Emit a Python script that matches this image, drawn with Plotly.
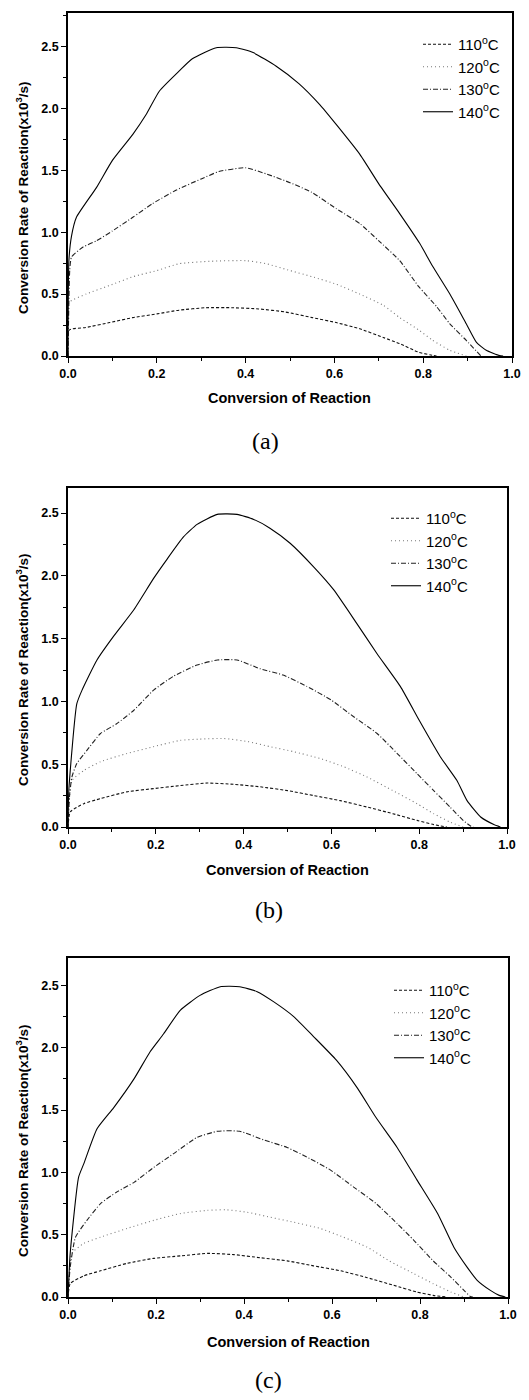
import plotly.graph_objects as go

### 1. DATA
temps = ["110", "120", "130", "140"]
dashes = ["3px,2px", "1px,3px", "5px,2px,1px,2px", "solid"]
colors = ["#111111", "#777777", "#222222", "#000000"]

## (a)
xa_110 = [0, 0.003, 0.04, 0.094, 0.146, 0.2, 0.25, 0.31, 0.37, 0.43, 0.49, 0.55, 0.604, 0.657, 0.71, 0.747, 0.79, 0.815, 0.83]
ya_110 = [0, 0.21, 0.23, 0.27, 0.31, 0.34, 0.37, 0.39, 0.39, 0.38, 0.355, 0.31, 0.27, 0.22, 0.15, 0.10, 0.03, 0.01, 0]
xa_120 = [0, 0.002, 0.041, 0.094, 0.146, 0.2, 0.25, 0.32, 0.40, 0.447, 0.5, 0.55, 0.604, 0.657, 0.71, 0.747, 0.79, 0.82, 0.86, 0.897]
ya_120 = [0, 0.43, 0.50, 0.57, 0.64, 0.69, 0.745, 0.765, 0.77, 0.745, 0.69, 0.64, 0.58, 0.50, 0.41, 0.31, 0.21, 0.13, 0.046, 0]
xa_130 = [0, 0.004, 0.008, 0.034, 0.064, 0.10, 0.146, 0.19, 0.244, 0.30, 0.34, 0.40, 0.447, 0.50, 0.55, 0.604, 0.657, 0.70, 0.747, 0.79, 0.83, 0.86, 0.897, 0.93]
ya_130 = [0, 0.70, 0.80, 0.88, 0.93, 1.01, 1.12, 1.23, 1.34, 1.43, 1.49, 1.52, 1.47, 1.40, 1.32, 1.19, 1.07, 0.93, 0.77, 0.56, 0.40, 0.26, 0.126, 0.0]
xa_140 = [0, 0.002, 0.008, 0.019, 0.064, 0.10, 0.146, 0.176, 0.206, 0.25, 0.28, 0.334, 0.379, 0.417, 0.469, 0.52, 0.567, 0.604, 0.657, 0.70, 0.747, 0.792, 0.822, 0.86, 0.897, 0.92, 0.942, 0.972, 0.98]
ya_140 = [0, 0.77, 0.97, 1.12, 1.36, 1.58, 1.79, 1.95, 2.14, 2.30, 2.40, 2.49, 2.49, 2.45, 2.34, 2.20, 2.03, 1.87, 1.63, 1.39, 1.15, 0.91, 0.72, 0.50, 0.26, 0.11, 0.046, 0.003, 0]

## (b)
xb_110 = [0, 0.005, 0.036, 0.074, 0.134, 0.195, 0.256, 0.317, 0.377, 0.438, 0.5, 0.56, 0.62, 0.68, 0.74, 0.795, 0.833, 0.863]
yb_110 = [0, 0.12, 0.186, 0.226, 0.28, 0.306, 0.33, 0.35, 0.34, 0.32, 0.29, 0.25, 0.21, 0.16, 0.106, 0.053, 0.019, 0]
xb_120 = [0, 0.009, 0.036, 0.074, 0.134, 0.195, 0.256, 0.30, 0.355, 0.41, 0.46, 0.514, 0.575, 0.628, 0.68, 0.74, 0.795, 0.833, 0.87, 0.90]
yb_120 = [0, 0.37, 0.45, 0.52, 0.585, 0.64, 0.69, 0.70, 0.705, 0.68, 0.64, 0.60, 0.545, 0.48, 0.40, 0.29, 0.186, 0.106, 0.04, 0]
xb_130 = [0, 0.004, 0.009, 0.02, 0.043, 0.074, 0.11, 0.15, 0.195, 0.24, 0.294, 0.34, 0.385, 0.438, 0.49, 0.544, 0.6, 0.65, 0.704, 0.75, 0.795, 0.833, 0.87, 0.90, 0.917, 0.924]
yb_130 = [0, 0.27, 0.40, 0.505, 0.61, 0.745, 0.82, 0.93, 1.09, 1.20, 1.29, 1.33, 1.33, 1.26, 1.21, 1.12, 1.01, 0.88, 0.745, 0.585, 0.425, 0.29, 0.16, 0.053, 0.008, 0]
xb_140 = [0, 0.002, 0.02, 0.032, 0.066, 0.104, 0.15, 0.195, 0.225, 0.263, 0.294, 0.34, 0.385, 0.423, 0.46, 0.506, 0.56, 0.605, 0.658, 0.704, 0.757, 0.80, 0.848, 0.886, 0.909, 0.94, 0.97, 0.985]
yb_140 = [0, 0.30, 0.98, 1.09, 1.33, 1.52, 1.73, 1.98, 2.13, 2.31, 2.41, 2.49, 2.49, 2.45, 2.38, 2.26, 2.07, 1.89, 1.62, 1.38, 1.12, 0.85, 0.56, 0.37, 0.21, 0.08, 0.02, 0]

## (c)
xc_110 = [0, 0.005, 0.036, 0.074, 0.134, 0.195, 0.256, 0.317, 0.377, 0.437, 0.498, 0.558, 0.62, 0.68, 0.74, 0.793, 0.83, 0.86]
yc_110 = [0, 0.107, 0.17, 0.21, 0.27, 0.31, 0.33, 0.35, 0.34, 0.315, 0.29, 0.25, 0.21, 0.155, 0.094, 0.04, 0.013, 0]
xc_120 = [0, 0.009, 0.036, 0.074, 0.134, 0.195, 0.256, 0.317, 0.36, 0.407, 0.46, 0.513, 0.573, 0.626, 0.68, 0.73, 0.786, 0.83, 0.87, 0.90]
yc_120 = [0, 0.35, 0.43, 0.48, 0.55, 0.615, 0.67, 0.695, 0.70, 0.68, 0.64, 0.60, 0.55, 0.48, 0.40, 0.29, 0.187, 0.107, 0.04, 0]
xc_130 = [0, 0.005, 0.017, 0.043, 0.074, 0.11, 0.15, 0.195, 0.24, 0.293, 0.34, 0.39, 0.445, 0.498, 0.55, 0.596, 0.65, 0.70, 0.748, 0.786, 0.83, 0.87, 0.90, 0.914, 0.92]
yc_130 = [0, 0.24, 0.48, 0.615, 0.75, 0.84, 0.92, 1.04, 1.15, 1.28, 1.33, 1.33, 1.26, 1.20, 1.11, 1.02, 0.88, 0.75, 0.59, 0.455, 0.29, 0.16, 0.053, 0.005, 0]
xc_140 = [0, 0.005, 0.024, 0.036, 0.066, 0.104, 0.15, 0.187, 0.217, 0.255, 0.30, 0.346, 0.39, 0.43, 0.467, 0.513, 0.558, 0.61, 0.657, 0.70, 0.748, 0.793, 0.84, 0.877, 0.907, 0.93, 0.96, 0.98, 0.994]
yc_140 = [0, 0.35, 0.96, 1.07, 1.35, 1.52, 1.75, 1.97, 2.11, 2.30, 2.42, 2.49, 2.49, 2.45, 2.37, 2.25, 2.09, 1.90, 1.68, 1.44, 1.20, 0.94, 0.67, 0.40, 0.24, 0.134, 0.053, 0.013, 0]

panels = [
    dict(xs=[xa_110, xa_120, xa_130, xa_140], ys=[ya_110, ya_120, ya_130, ya_140], label="(a)"),
    dict(xs=[xb_110, xb_120, xb_130, xb_140], ys=[yb_110, yb_120, yb_130, yb_140], label="(b)"),
    dict(xs=[xc_110, xc_120, xc_130, xc_140], ys=[yc_110, yc_120, yc_130, yc_140], label="(c)"),
]

ytitle = "Conversion Rate of Reaction(x10<sup>3</sup>/s)"
xtitle = "Conversion of Reaction"

### 2. LAYOUT GEOMETRY
# positions are page pixels of the 529x1400 reference; the html body adds an 8px margin.
# the figure is made a bit wider than the window so the top legend is not pushed left.
OFF = 8
W, H = 529 - OFF + 40, 1400 - OFF
boxes = [  # left, right, top, bottom
    (68, 512, 13, 356),
    (68, 507, 488, 827),
    (68, 508, 958, 1297),
]
yranges = [2.77, 2.70, 2.72]
legend_pos = [(418, 28), (386, 502), (389, 974)]  # left, top
label_pos = [(265, 441), (269, 910), (268, 1380)]
ytitle_pos = [(22, 198), (22, 670), (22, 1141)]
xtitle_pos = [(289, 398), (287, 870), (288, 1342)]


def px(x):
    return (x - OFF) / W


def py(y):
    return 1 - (y - OFF) / H


FONT = "Liberation Sans"

### 3. PLOTTING
fig = go.Figure()
for i, p in enumerate(panels):
    sfx = "" if i == 0 else str(i + 1)
    leg = "legend" + sfx
    for k, t in enumerate(temps):
        fig.add_trace(go.Scatter(
            x=p["xs"][k], y=p["ys"][k], mode="lines",
            line=dict(color=colors[k], width=1.1, dash=dashes[k], shape="spline", smoothing=0.5),
            name=t + "<sup>o</sup>C",
            xaxis="x" + sfx, yaxis="y" + sfx,
            legend=leg, showlegend=True))

layout = dict(width=W, height=H, margin=dict(l=0, r=0, t=0, b=0, autoexpand=False),
              plot_bgcolor="white", paper_bgcolor="white", annotations=[])

for i, (l, r, t, b) in enumerate(boxes):
    sfx = "" if i == 0 else str(i + 1)
    common = dict(showline=True, linecolor="black", linewidth=1.6, mirror=True,
                  showgrid=False, zeroline=False, ticks="outside", ticklen=5,
                  tickwidth=1.3, tickcolor="black", automargin=False,
                  tickfont=dict(family=FONT, size=12.5, color="black", weight="bold"))
    layout["xaxis" + sfx] = dict(
        common, domain=[px(l), px(r)], anchor="y" + sfx, range=[0, 1.0],
        tickvals=[0, 0.2, 0.4, 0.6, 0.8, 1.0], ticktext=["0.0", "0.2", "0.4", "0.6", "0.8", "1.0"],
        minor=dict(dtick=0.1, ticks="outside", ticklen=3, tickcolor="black", tickwidth=1.2))
    layout["yaxis" + sfx] = dict(
        common, domain=[py(b), py(t)], anchor="x" + sfx, range=[0, yranges[i]],
        tickvals=[0, 0.5, 1.0, 1.5, 2.0, 2.5], ticktext=["0.0", "0.5", "1.0", "1.5", "2.0", "2.5"],
        minor=dict(dtick=0.25, ticks="outside", ticklen=3, tickcolor="black", tickwidth=1.2))
    lx, ly = legend_pos[i]
    layout["legend" + sfx] = dict(
        x=px(lx), y=py(ly), xanchor="left", yanchor="top",
        bgcolor="rgba(0,0,0,0)", borderwidth=0, tracegroupgap=0, itemwidth=30,
        font=dict(family=FONT, size=15, color="black"))
    tx, ty = ytitle_pos[i]
    layout["annotations"].append(dict(
        text=ytitle, xref="paper", yref="paper", textangle=-90,
        x=px(tx), y=py(ty), xanchor="center", yanchor="middle",
        showarrow=False, font=dict(family=FONT, size=13.5, color="black", weight="bold")))
    tx, ty = xtitle_pos[i]
    layout["annotations"].append(dict(
        text=xtitle, xref="paper", yref="paper",
        x=px(tx), y=py(ty), xanchor="center", yanchor="middle",
        showarrow=False, font=dict(family=FONT, size=14.5, color="black", weight="bold")))
    ax, ay = label_pos[i]
    layout["annotations"].append(dict(
        text=panels[i]["label"], xref="paper", yref="paper",
        x=px(ax), y=py(ay), xanchor="center", yanchor="middle",
        showarrow=False, font=dict(family="Liberation Serif", size=24, color="black")))

fig.update_layout(layout)
fig.write_html("out.html")
